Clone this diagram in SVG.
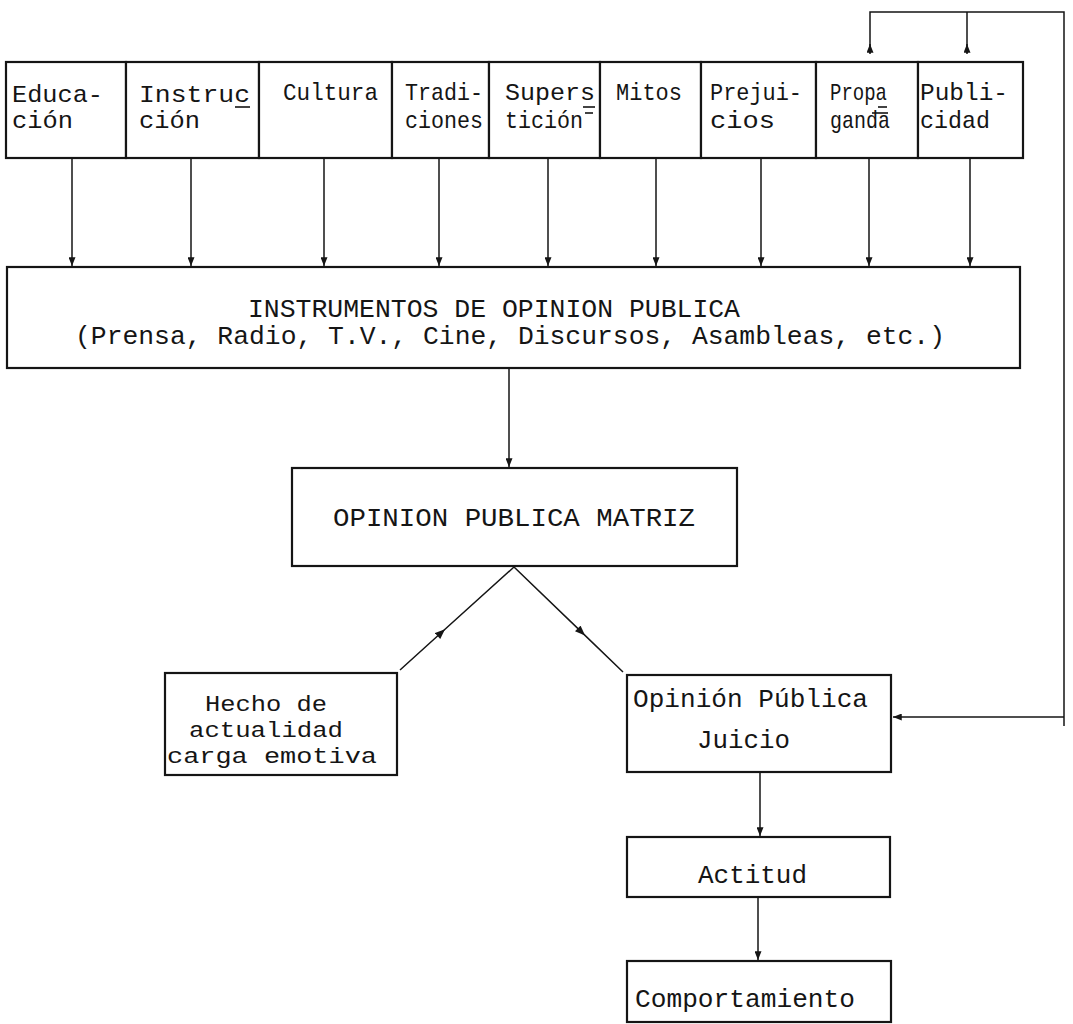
<svg xmlns="http://www.w3.org/2000/svg" width="1073" height="1024" viewBox="0 0 1073 1024">
  <style>
    .box { fill: #ffffff; stroke: #151515; stroke-width: 2.2; }
    .t { font-family: "Liberation Mono", "DejaVu Sans Mono", monospace; fill: #151515; }
    .s22 { font-size: 22px; }
    .s24 { font-size: 24px; }
    .s26 { font-size: 26px; }
    .conn { fill: none; stroke: #151515; stroke-width: 1.5; }
    .mark { stroke: #151515; stroke-width: 1.6; }
  </style>
  <defs>
    <marker id="arr" viewBox="0 0 10 8" refX="10" refY="4" markerWidth="9" markerHeight="7" markerUnits="userSpaceOnUse" orient="auto">
      <path d="M0,0 L10,4 L0,8 z" fill="#151515"/>
    </marker>
    <marker id="arrmid" viewBox="0 0 10 8" refX="10" refY="4" markerWidth="11" markerHeight="8" markerUnits="userSpaceOnUse" orient="auto">
      <path d="M0,0 L10,4 L0,8 z" fill="#151515"/>
    </marker>
  </defs>
  <rect width="1073" height="1024" fill="#ffffff"/>

  <g id="connectors">
    <path class="conn" d="M72,158 V266" marker-end="url(#arr)"/>
    <path class="conn" d="M191,158 V266" marker-end="url(#arr)"/>
    <path class="conn" d="M324,158 V266" marker-end="url(#arr)"/>
    <path class="conn" d="M439,158 V266" marker-end="url(#arr)"/>
    <path class="conn" d="M548,158 V266" marker-end="url(#arr)"/>
    <path class="conn" d="M656,158 V266" marker-end="url(#arr)"/>
    <path class="conn" d="M761,158 V266" marker-end="url(#arr)"/>
    <path class="conn" d="M869,158 V266" marker-end="url(#arr)"/>
    <path class="conn" d="M970,158 V266" marker-end="url(#arr)"/>
    <path class="conn" d="M509,368 V467" marker-end="url(#arr)"/>
    <polyline class="conn" points="400,670 445,629.3 514,567" marker-mid="url(#arrmid)"/>
    <polyline class="conn" points="514,567 585,635.4 623,672" marker-mid="url(#arrmid)"/>
    <path class="conn" d="M760,772 V836" marker-end="url(#arr)"/>
    <path class="conn" d="M758,897 V960" marker-end="url(#arr)"/>
    <path class="conn" d="M1064,726 V12 H870 V53"/>
    <path class="conn" d="M967,12 V53"/>
    <path class="conn" d="M870,54 V44" marker-end="url(#arr)"/>
    <path class="conn" d="M967,54 V44" marker-end="url(#arr)"/>
    <path class="conn" d="M1064,717 H893" marker-end="url(#arr)"/>
  </g>

  <g id="educacion">
    <rect class="box" x="6" y="62" width="120" height="96"/>
    <text class="t s24" x="12" y="102" textLength="91" lengthAdjust="spacingAndGlyphs">Educa-</text>
    <text class="t s24" x="12" y="128" textLength="61" lengthAdjust="spacingAndGlyphs">ción</text>
  </g>
  <g id="instruccion">
    <rect class="box" x="126" y="62" width="133" height="96"/>
    <text class="t s24" x="139" y="102" textLength="111" lengthAdjust="spacingAndGlyphs">Instruc</text>
    <line class="mark" x1="235" y1="107" x2="250" y2="107"/>
    <text class="t s24" x="139" y="128" textLength="61" lengthAdjust="spacingAndGlyphs">ción</text>
  </g>
  <g id="cultura">
    <rect class="box" x="259" y="62" width="133" height="96"/>
    <text class="t s24" x="283" y="100" textLength="95" lengthAdjust="spacingAndGlyphs">Cultura</text>
  </g>
  <g id="tradiciones">
    <rect class="box" x="392" y="62" width="97" height="96"/>
    <text class="t s24" x="405" y="100" textLength="78" lengthAdjust="spacingAndGlyphs">Tradi-</text>
    <text class="t s24" x="405" y="128" textLength="78" lengthAdjust="spacingAndGlyphs">ciones</text>
  </g>
  <g id="supersticion">
    <rect class="box" x="489" y="62" width="111" height="96"/>
    <text class="t s24" x="505" y="100" textLength="90" lengthAdjust="spacingAndGlyphs">Supers</text>
    <line class="mark" x1="583" y1="107" x2="595" y2="107"/>
    <text class="t s24" x="505" y="128" textLength="78" lengthAdjust="spacingAndGlyphs">tición</text>
    <line class="mark" x1="585" y1="113" x2="593" y2="113"/>
  </g>
  <g id="mitos">
    <rect class="box" x="600" y="62" width="101" height="96"/>
    <text class="t s24" x="616" y="100" textLength="66" lengthAdjust="spacingAndGlyphs">Mitos</text>
  </g>
  <g id="prejuicios">
    <rect class="box" x="701" y="62" width="115" height="96"/>
    <text class="t s24" x="710" y="100" textLength="92" lengthAdjust="spacingAndGlyphs">Prejui-</text>
    <text class="t s24" x="710" y="128" textLength="65" lengthAdjust="spacingAndGlyphs">cios</text>
  </g>
  <g id="propaganda">
    <rect class="box" x="816" y="62" width="102" height="96"/>
    <text class="t s24" x="830" y="100" textLength="57" lengthAdjust="spacingAndGlyphs">Propa</text>
    <line class="mark" x1="878" y1="107" x2="887" y2="107"/>
    <text class="t s24" x="830" y="128" textLength="60" lengthAdjust="spacingAndGlyphs">ganda</text>
    <line class="mark" x1="872" y1="113" x2="888" y2="113"/>
  </g>
  <g id="publicidad">
    <rect class="box" x="918" y="62" width="105" height="96"/>
    <text class="t s24" x="920" y="100" textLength="88" lengthAdjust="spacingAndGlyphs">Publi-</text>
    <text class="t s24" x="920" y="128" textLength="70" lengthAdjust="spacingAndGlyphs">cidad</text>
  </g>

  <g id="instrumentos">
    <rect class="box" x="7" y="267" width="1013" height="101"/>
    <text class="t s26" x="248" y="317" textLength="492" lengthAdjust="spacingAndGlyphs">INSTRUMENTOS DE OPINION PUBLICA</text>
    <text class="t s26" x="75" y="344" textLength="870" lengthAdjust="spacingAndGlyphs">(Prensa, Radio, T.V., Cine, Discursos, Asambleas, etc.)</text>
  </g>

  <g id="matriz">
    <rect class="box" x="292" y="468" width="445" height="98"/>
    <text class="t s26" x="333" y="526" textLength="362" lengthAdjust="spacingAndGlyphs">OPINION PUBLICA MATRIZ</text>
  </g>

  <g id="hecho">
    <rect class="box" x="165" y="673" width="232" height="102"/>
    <text class="t s22" x="205" y="711" textLength="122" lengthAdjust="spacingAndGlyphs">Hecho de</text>
    <text class="t s22" x="189" y="737" textLength="154" lengthAdjust="spacingAndGlyphs">actualidad</text>
    <text class="t s22" x="167" y="763" textLength="210" lengthAdjust="spacingAndGlyphs">carga emotiva</text>
  </g>

  <g id="opinion">
    <rect class="box" x="627" y="675" width="264" height="97"/>
    <text class="t s26" x="633" y="707" textLength="235" lengthAdjust="spacingAndGlyphs">Opinión Pública</text>
    <text class="t s26" x="697" y="748" textLength="93" lengthAdjust="spacingAndGlyphs">Juicio</text>
  </g>

  <g id="actitud">
    <rect class="box" x="627" y="837" width="263" height="60"/>
    <text class="t s26" x="698" y="883" textLength="109" lengthAdjust="spacingAndGlyphs">Actitud</text>
  </g>

  <g id="comportamiento">
    <rect class="box" x="627" y="961" width="264" height="61"/>
    <text class="t s26" x="635" y="1007" textLength="220" lengthAdjust="spacingAndGlyphs">Comportamiento</text>
  </g>
</svg>
